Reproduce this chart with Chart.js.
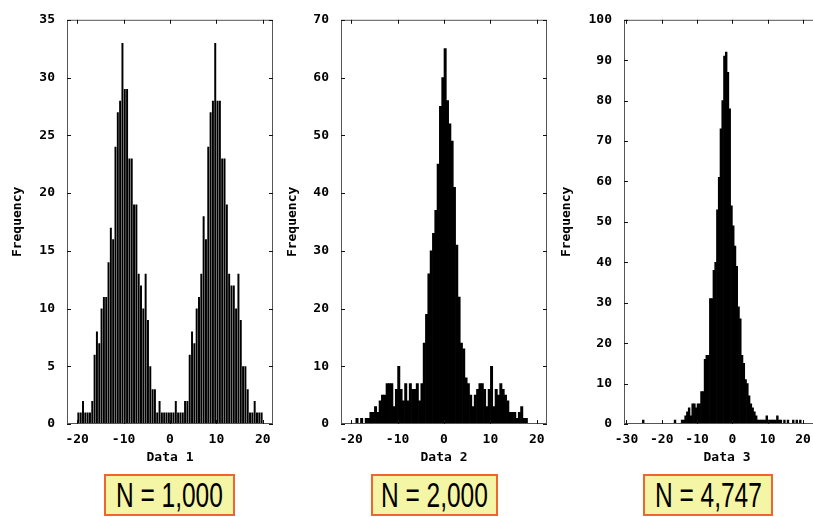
<!DOCTYPE html>
<html>
<head>
<meta charset="utf-8">
<script src="https://cdn.jsdelivr.net/npm/chart.js@4.4.1/dist/chart.umd.min.js"></script>
<style>
  html, body { margin: 0; padding: 0; background: #fff; }
  body { width: 813px; height: 517px; overflow: hidden; position: relative; }
  canvas { position: absolute; top: 0; }
  .nbox {
    position: absolute; top: 474px; height: 42px; box-sizing: border-box;
    border: 2px solid #f0642e; background: #f5f5a6;
    display: flex; justify-content: center; align-items: center;
    font-family: "Liberation Sans", Arial, sans-serif; font-size: 35px; color: #000;
  }
  .nbox span { display: inline-block; white-space: nowrap; transform: scaleX(0.7); }
</style>
</head>
<body>
<canvas id="h1" width="290" height="470" style="left:0px"></canvas>
<canvas id="h2" width="290" height="470" style="left:274px"></canvas>
<canvas id="h3" width="300" height="470" style="left:557px"></canvas>
<div class="nbox" id="n1" style="left:104px;width:131px"></div>
<div class="nbox" id="n2" style="left:371px;width:127px"></div>
<div class="nbox" id="n3" style="left:643px;width:130px"></div>

<script>
const binWidth = 0.5

// Data 1 : two humps, bins start at -20
const binStart1 = -20
const counts1 = [
  1, 1, 2, 1, 1, 1, 2, 6, 8, 7, 10, 11, 11, 14, 17, 16, 24, 27, 28, 33,
  29, 29, 23, 23, 19, 19, 13, 12, 10, 13, 9, 5, 3, 3, 1, 2, 1, 1, 1, 1,
  1, 1, 2, 1, 1, 1, 2, 2, 6, 8, 7, 10, 11, 13, 18, 16, 24, 27, 28, 33,
  28, 28, 23, 23, 19, 13, 12, 12, 10, 13, 9, 5, 5, 3, 1, 1, 2, 1, 1, 1
]

// Data 2 : one peak with a wide flat base, bins start at -20
const binStart2 = -20
const counts2 = [
  0, 0, 1, 0, 1, 0, 1, 1, 2, 2, 3, 2, 4, 5, 5, 7, 7, 7, 3, 6,
  10, 6, 4, 7, 4, 7, 6, 6, 7, 4, 7, 14, 19, 26, 30, 33, 37, 45, 55, 60,
  65, 56, 52, 49, 41, 31, 22, 14, 13, 8, 7, 5, 3, 5, 6, 7, 7, 6, 3, 6,
  10, 3, 6, 5, 7, 6, 5, 4, 2, 2, 2, 1, 2, 3, 1, 1, 0, 0, 0, 0
]

// Data 3 : sharp peak, bins start at -25.5
const binStart3 = -25.5
const counts3 = [
  1, 0, 0, 0, 0, 0, 0, 0, 0, 0, 0, 0, 0, 0, 0, 0, 0, 0, 1, 0,
  0, 0, 1, 1, 2, 3, 4, 2, 5, 5, 4, 5, 5, 8, 8, 16, 17, 17, 31, 31,
  38, 40, 53, 61, 73, 80, 91, 92, 87, 78, 54, 49, 44, 39, 29, 26, 17, 15, 11, 10,
  7, 5, 4, 3, 2, 1, 1, 1, 1, 1, 2, 1, 1, 1, 1, 1, 2, 1, 1, 0,
  1, 0, 1, 0, 0, 1, 0, 1, 0, 1
]

const xTicks1 = [-20, -10, 0, 10, 20]
const xTicks2 = [-20, -10, 0, 10, 20]
const xTicks3 = [-30, -20, -10, 0, 10, 20]
const yTicks1 = [0, 5, 10, 15, 20, 25, 30, 35]
const yTicks2 = [0, 10, 20, 30, 40, 50, 60, 70]
const yTicks3 = [0, 10, 20, 30, 40, 50, 60, 70, 80, 90, 100]
const xTitles = ['Data 1', 'Data 2', 'Data 3']
const sampleSizes = ['N = 1,000', 'N = 2,000', 'N = 4,747']

// --------------------------------------------------------------------------------
// border + inward tick marks on all four sides (gnuplot style)
const frame = {
  id: 'frame',
  afterDatasetsDraw(chart) {
    const { ctx, chartArea: a, scales: { x, y } } = chart
    ctx.save()
    ctx.lineWidth = 1
    ctx.strokeStyle = '#555'
    ctx.strokeRect(a.left + 0.5, a.top + 0.5, a.right - a.left - 1, a.bottom - a.top - 1)
    ctx.beginPath()
    x.ticks.forEach(t => {
      const px = Math.round(x.getPixelForValue(t.value)) + 0.5
      ctx.moveTo(px, a.bottom); ctx.lineTo(px, a.bottom - 4)
      ctx.moveTo(px, a.top); ctx.lineTo(px, a.top + 4)
    })
    y.ticks.forEach(t => {
      const py = Math.round(y.getPixelForValue(t.value)) + 0.5
      ctx.moveTo(a.left, py); ctx.lineTo(a.left + 4, py)
      ctx.moveTo(a.right, py); ctx.lineTo(a.right - 4, py)
    })
    ctx.strokeStyle = '#111'
    ctx.stroke()
    ctx.restore()
  }
}

const monoFont = { family: 'DejaVu Sans Mono', size: 13, weight: 'bold' }

function histogram(id, start, counts, xTicks, yTicks, xMin, xMax, xTitle, opt) {
  return new Chart(document.getElementById(id), {
    type: 'bar',
    data: {
      datasets: [{
        data: counts.map((c, i) => ({ x: start + binWidth * (i + 0.5), y: c })),
        backgroundColor: '#000',
        borderWidth: 0,
        barPercentage: opt.barPct,
        categoryPercentage: 1
      }]
    },
    options: {
      responsive: false,
      animation: false,
      layout: { padding: { left: 0, top: 10, right: opt.padRight, bottom: 0 } },
      plugins: { legend: { display: false }, tooltip: { enabled: false } },
      scales: {
        x: {
          type: 'linear', min: xMin, max: xMax, offset: false,
          grid: { display: false, drawTicks: false }, border: { display: false },
          afterBuildTicks: s => { s.ticks = xTicks.map(v => ({ value: v })) },
          afterFit: s => { s.height = 46 },
          ticks: { autoSkip: false, maxRotation: 0, padding: 8, color: '#000', font: monoFont, callback: v => String(v) },
          title: { display: true, text: xTitle, color: '#000', font: monoFont, padding: { top: 0, bottom: 5 } }
        },
        y: {
          min: 0, max: yTicks[yTicks.length - 1],
          grid: { display: false, drawTicks: false }, border: { display: false },
          afterBuildTicks: s => { s.ticks = yTicks.map(v => ({ value: v })) },
          afterFit: s => { s.width = 67 },
          ticks: { padding: 12, color: '#000', font: monoFont, callback: v => String(v) },
          title: { display: true, text: 'Frequency', color: '#000', font: monoFont, padding: { top: opt.titlePad, bottom: 0 } }
        }
      }
    },
    plugins: [frame]
  })
}

histogram('h1', binStart1, counts1, xTicks1, yTicks1, -22.2, 22.2, xTitles[0], { barPct: 0.85, padRight: 17, titlePad: 10.2 })
histogram('h2', binStart2, counts2, xTicks2, yTicks2, -22.2, 22.2, xTitles[1], { barPct: 1, padRight: 17, titlePad: 11.2 })
histogram('h3', binStart3, counts3, xTicks3, yTicks3, -30.7, 27.66, xTitles[2], { barPct: 1, padRight: 27, titlePad: 2.2 })

// sample size boxes
sampleSizes.forEach((txt, i) => {
  document.getElementById('n' + (i + 1)).innerHTML = '<span>' + txt + '</span>'
})
</script>
</body>
</html>
